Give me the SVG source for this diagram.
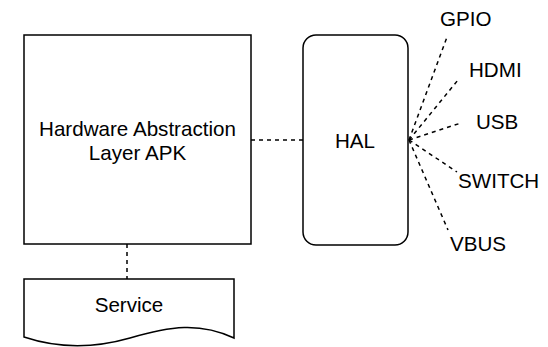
<svg xmlns="http://www.w3.org/2000/svg" width="548" height="347" viewBox="0 0 548 347">
<style>
.shape{fill:#fff;stroke:#000;stroke-width:1.5}
.conn{fill:none;stroke:#000;stroke-width:1.5;stroke-dasharray:4 4}
text{font-family:"Liberation Sans",Arial,sans-serif;font-size:20.6px;fill:#000}
.c{text-anchor:middle}
</style>
<rect width="548" height="347" fill="#fff"/>
<g id="connectors">
<path class="conn" d="M251,140 H303"/>
<path class="conn" d="M127,244 V279"/>
<path class="conn" d="M409,140 L447,37"/>
<path class="conn" d="M409,140 L458,80"/>
<path class="conn" d="M409,140 L461,123"/>
<path class="conn" d="M409,140 L457,172"/>
<path class="conn" d="M409,140 L448,230"/>
</g>
<g id="apk">
<rect class="shape" x="24" y="35" width="227" height="209"/>
<text class="c" x="137.5" y="136">Hardware Abstraction</text>
<text class="c" x="137.5" y="160">Layer APK</text>
</g>
<g id="service">
<path class="shape" d="M24,279 H234 V338 C200,322 170,326 130,338 C95,348 60,349 24,337 Z"/>
<text class="c" x="129" y="312">Service</text>
</g>
<g id="hal">
<rect class="shape" x="303" y="35" width="105" height="210" rx="13" ry="13"/>
<text class="c" x="355" y="147.5">HAL</text>
</g>
<g id="gpio"><text x="440" y="26">GPIO</text></g>
<g id="hdmi"><text x="469" y="77">HDMI</text></g>
<g id="usb"><text x="476" y="129">USB</text></g>
<g id="switch"><text x="458" y="188">SWITCH</text></g>
<g id="vbus"><text x="450" y="251">VBUS</text></g>
</svg>
